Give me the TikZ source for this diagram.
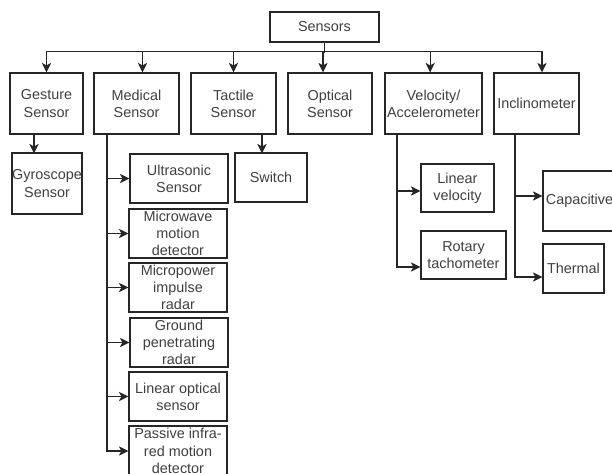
\documentclass[tikz,border=0pt]{standalone}
\usepackage{fontspec}
\setmainfont{Liberation Sans}
\usetikzlibrary{arrows.meta}
\definecolor{txt}{HTML}{404040}
\definecolor{edge}{HTML}{262626}
\newcommand\bx[6]{\node[box, minimum width={(#4-#2)*0.03cm}, minimum height={(#5-#3)*0.03cm}] (#1) at ({(#2+#4)/2},{(#3+#5)/2}) {#6};}
\begin{document}
\begin{tikzpicture}[x=0.03cm, y=-0.03cm,
  box/.style={draw=edge, line width=0.9pt, align=center, inner sep=0pt, text=txt,
    font=\fontsize{12.3}{14.7}\selectfont},
  ln/.style={draw=edge, line width=0.9pt},
  arr/.style={draw=edge, line width=0.9pt, -{Stealth[length=2.9mm,width=2.8mm,inset=0.8mm]}}]
\fill[white] (0,0) rectangle (612,474);
\useasboundingbox (0,0) rectangle (612,474);

\bx{sensors}{270}{12}{379}{42}{Sensors}
\bx{gesture}{10}{73}{83}{134}{Gesture\\Sensor}
\bx{medical}{94}{73}{179}{134}{Medical\\Sensor}
\bx{tactile}{191}{73}{276}{134}{Tactile\\Sensor}
\bx{optical}{288}{73}{372}{134}{Optical\\Sensor}
\bx{velocity}{385}{73}{482}{134}{Velocity/\\Accelerometer}
\bx{incl}{494}{73}{579}{134}{Inclinometer}

\bx{gyro}{12}{153}{82}{214}{Gyroscope\\Sensor}
\bx{switch}{235}{153}{307}{202}{Switch}

\bx{ultra}{130}{154}{228}{203}{Ultrasonic\\Sensor}
\bx{microwave}{129}{209}{227}{258}{Microwave\\motion\\detector}
\bx{micropower}{129}{263}{227}{312}{Micropower\\impulse\\radar}
\bx{ground}{130}{318}{228}{367}{Ground\\penetrating\\radar}
\bx{linopt}{129}{372}{227}{421}{Linear optical\\sensor}
\bx{passive}{129}{426}{227}{476}{Passive infra-\\red motion\\detector}

\bx{linvel}{421}{164}{494}{212}{Linear\\velocity}
\bx{rotary}{421}{231}{506}{279}{Rotary\\tachometer}

\bx{capac}{543}{171}{616}{231}{Capacitive}
\bx{thermal}{543}{244}{604}{293}{Thermal}

% bus
\draw[ln] (sensors.south) -- ++(0,10);
\draw[ln] ([yshift=0.63cm]gesture.north) -- ([xshift=0.165cm,yshift=0.63cm]incl.north);
\draw[arr] ([yshift=0.63cm]gesture.north) -- (gesture.north);
\draw[arr] ([xshift=0.18cm,yshift=0.63cm]medical.north) -- ([xshift=0.18cm]medical.north);
\draw[arr] ([yshift=0.63cm]tactile.north) -- (tactile.north);
\draw[arr] ([xshift=-0.21cm,yshift=0.63cm]optical.north) -- ([xshift=-0.21cm]optical.north);
\draw[arr] ([xshift=-0.1cm,yshift=0.63cm]velocity.north) -- ([xshift=-0.1cm]velocity.north);
\draw[arr] ([xshift=0.165cm,yshift=0.63cm]incl.north) -- ([xshift=0.165cm]incl.north);

% single children
\draw[arr] ([xshift=-0.375cm]gesture.south) -- ([xshift=-0.375cm,yshift=-0.57cm]gesture.south);
\draw[arr] ([xshift=0.855cm]tactile.south) -- ([xshift=0.855cm,yshift=-0.57cm]tactile.south);

% medical trunk
\coordinate (mtrunk) at ([xshift=-0.885cm]medical.south);
\draw[arr] (mtrunk) |- (ultra.west);
\draw[arr] (mtrunk) |- (microwave.west);
\draw[arr] (mtrunk) |- (micropower.west);
\draw[arr] (mtrunk) |- (ground.west);
\draw[arr] (mtrunk) |- (linopt.west);
\draw[arr] (mtrunk) |- (passive.west);

% velocity trunk
\coordinate (vtrunk) at ([xshift=-1.095cm]velocity.south);
\draw[arr] (vtrunk) |- ([yshift=-0.09cm]linvel.west);
\draw[arr] (vtrunk) |- ([yshift=-0.36cm]rotary.west);

% inclinometer trunk
\coordinate (itrunk) at ([xshift=-0.645cm]incl.south);
\draw[arr] (itrunk) |- ([yshift=0.15cm]capac.west);
\draw[arr] (itrunk) |- ([yshift=-0.255cm]thermal.west);
\end{tikzpicture}
\end{document}
